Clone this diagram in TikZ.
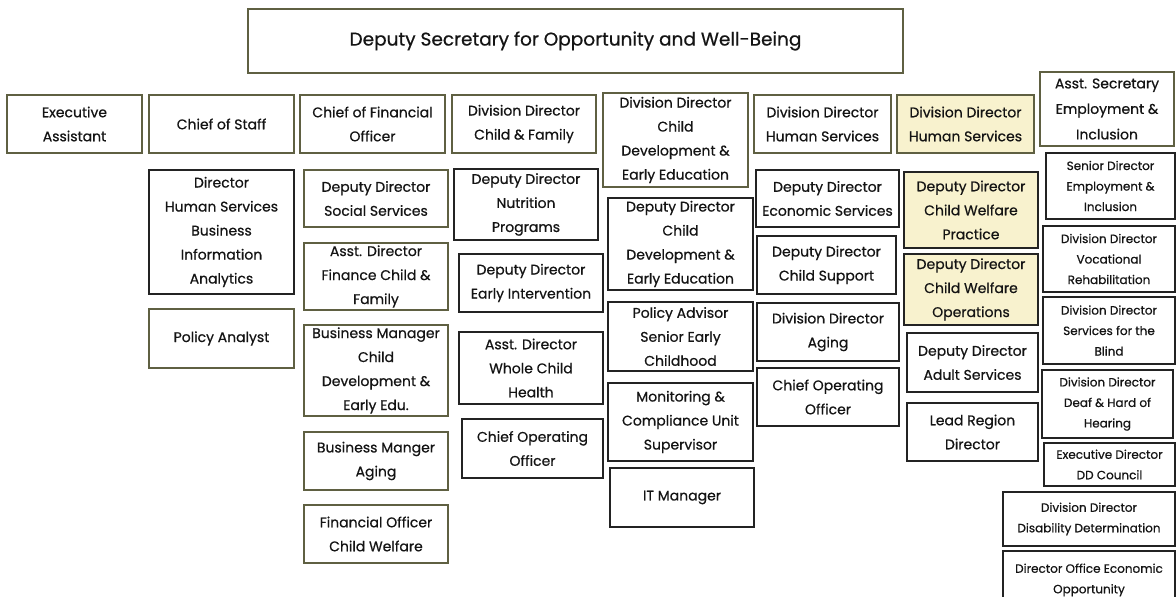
\documentclass[tikz,border=0pt]{standalone}
\usepackage{fontspec}
\setmainfont{Poppins}[FakeBold=0.6,AutoFakeBold=0.6]
\usepackage{tikz}
\definecolor{boxolive}{RGB}{95,96,66}
\definecolor{boxblack}{RGB}{35,35,35}
\definecolor{hiyellow}{RGB}{248,242,206}
\definecolor{textgray}{RGB}{20,20,20}
\newcommand{\unitfont}{\fontsize{14}{24}\selectfont}
\newcommand{\minorfont}{\fontsize{12}{20.5}\selectfont}
\newcommand{\headfont}{\fontsize{18.5}{24}\selectfont}
% box from corner (x1,y1) to (x2,y2), y counted downwards
\newcommand{\orgbox}[7]{\node[#1,minimum width={#4-#2},minimum height={#5-#3}] (#6) at ({(#2+#4)/2},{(#3+#5)/2}) {#7};}

\begin{document}
\begin{tikzpicture}[x=1pt,y=-1pt,
	unitbox/.style={rectangle,draw=boxolive,line width=1.7pt,inner sep=0pt,align=center,font=\unitfont,text=textgray},
	blackbox/.style={unitbox,draw=boxblack,line width=1.5pt},
	hilite/.style={fill=hiyellow},
	minor/.style={font=\minorfont}]
	\useasboundingbox (0,0) rectangle (1176,597);
	\fill[white] (0,0) rectangle (1176,597);
	% top
	\orgbox{unitbox,font=\headfont}{248}{9}{903}{73}{dsec}{Deputy Secretary for Opportunity and Well-Being}
	% first row
	\orgbox{unitbox}{7}{95}{142}{153}{ea}{Executive\\Assistant}
	\orgbox{unitbox}{149}{95}{294}{153}{cos}{Chief of Staff}
	\orgbox{unitbox}{300}{95}{445}{153}{cfo}{Chief of Financial\\Officer}
	\orgbox{unitbox}{452}{95}{596}{153}{ddcf}{Division Director\\Child \& Family}
	\orgbox{unitbox}{603}{93}{748}{187}{ddcd}{Division Director\\Child\\Development \&\\Early Education}
	\orgbox{unitbox}{754}{95}{891}{153}{ddhs}{Division Director\\Human Services}
	\orgbox{unitbox,hilite}{897}{95}{1034}{153}{ddhsw}{Division Director\\Human Services}
	\orgbox{unitbox,font=\fontsize{14}{25.5}\selectfont}{1040}{72}{1174}{146}{asei}{Asst. Secretary\\Employment \&\\Inclusion}
	% chief of staff
	\orgbox{blackbox}{149}{170}{294}{294}{dbia}{Director\\Human Services\\Business\\Information\\Analytics}
	\orgbox{unitbox}{149}{309}{294}{368}{pa}{Policy Analyst}
	% financial officer
	\orgbox{unitbox}{304}{170}{448}{227}{ddss}{Deputy Director\\Social Services}
	\orgbox{unitbox}{304}{243}{448}{310}{adfin}{Asst. Director\\Finance Child \&\\Family}
	\orgbox{unitbox}{304}{325}{448}{416}{bmcd}{Business Manager\\Child\\Development \&\\Early Edu.}
	\orgbox{unitbox}{304}{432}{448}{490}{bmag}{Business Manger\\Aging}
	\orgbox{unitbox}{304}{505}{448}{563}{focw}{Financial Officer\\Child Welfare}
	% child & family
	\orgbox{blackbox}{454}{169}{598}{240}{ddnp}{Deputy Director\\Nutrition\\Programs}
	\orgbox{blackbox}{459}{254}{603}{312}{ddei}{Deputy Director\\Early Intervention}
	\orgbox{blackbox}{459}{332}{603}{404}{adwch}{Asst. Director\\Whole Child\\Health}
	\orgbox{blackbox}{462}{419}{603}{478}{coocf}{Chief Operating\\Officer}
	% child development
	\orgbox{blackbox}{608}{198}{753}{290}{ddcde}{Deputy Director\\Child\\Development \&\\Early Education}
	\orgbox{blackbox}{608}{302}{753}{371}{pasec}{Policy Advisor\\Senior Early\\Childhood}
	\orgbox{blackbox}{608}{383}{753}{461}{mcus}{Monitoring \&\\Compliance Unit\\Supervisor}
	\orgbox{blackbox}{610}{468}{754}{527}{itm}{IT Manager}
	% human services
	\orgbox{blackbox}{756}{170}{899}{227}{ddes}{Deputy Director\\Economic Services}
	\orgbox{blackbox}{757}{236}{896}{294}{ddcs}{Deputy Director\\Child Support}
	\orgbox{blackbox}{757}{303}{899}{361}{ddag}{Division Director\\Aging}
	\orgbox{blackbox}{757}{368}{899}{426}{coohs}{Chief Operating\\Officer}
	% human services, welfare
	\orgbox{blackbox,hilite}{904}{172}{1038}{248}{ddcwp}{Deputy Director\\Child Welfare\\Practice}
	\orgbox{blackbox,hilite}{904}{254}{1038}{325}{ddcwo}{Deputy Director\\Child Welfare\\Operations}
	\orgbox{blackbox}{907}{333}{1038}{392}{ddas}{Deputy Director\\Adult Services}
	\orgbox{blackbox}{907}{403}{1038}{461}{lrd}{Lead Region\\Director}
	% employment & inclusion
	\orgbox{blackbox,minor}{1046}{153}{1175}{219}{sdei}{Senior Director\\Employment \&\\Inclusion}
	\orgbox{blackbox,minor}{1043}{226}{1175}{292}{ddvr}{Division Director\\Vocational\\Rehabilitation}
	\orgbox{blackbox,minor}{1043}{297}{1175}{364}{ddsb}{Division Director\\Services for the\\Blind}
	\orgbox{blackbox,minor}{1042}{370}{1173}{438}{dddh}{Division Director\\Deaf \& Hard of\\Hearing}
	\orgbox{blackbox,minor}{1044}{443}{1175}{486}{eddd}{Executive Director\\DD Council}
	\orgbox{blackbox,minor}{1003}{492}{1175}{546}{dddd}{Division Director\\Disability Determination}
	\orgbox{blackbox,minor}{1003}{551}{1175}{609}{doeo}{Director Office Economic\\Opportunity}
\end{tikzpicture}
\end{document}
